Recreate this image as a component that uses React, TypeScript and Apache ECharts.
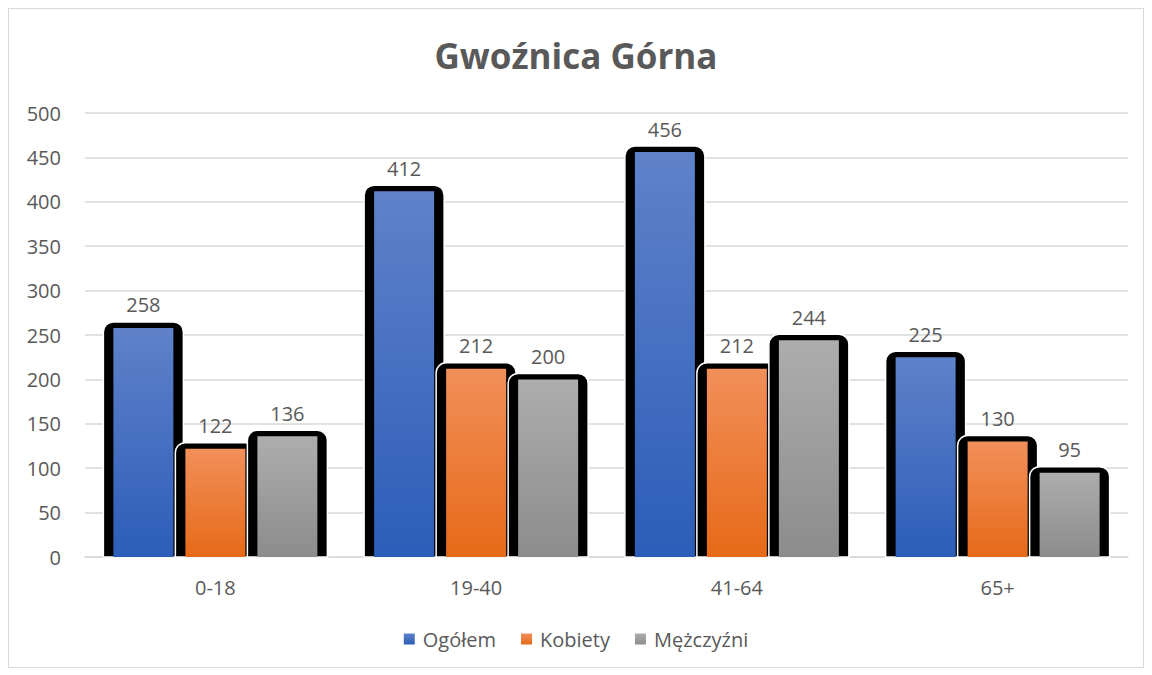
import React, { useEffect, useRef } from "react";
import * as echarts from "echarts";

const title = "Gwoźnica Górna";
const categories = ["0-18", "19-40", "41-64", "65+"];
const seriesNames = ["Ogółem", "Kobiety", "Mężczyźni"];
const ogolem = [258, 412, 456, 225];
const kobiety = [122, 212, 212, 130];
const mezczyzni = [136, 200, 244, 95];
const yTicks = { min: 0, max: 500, interval: 50 };

const FONT = "'Open Sans', sans-serif";
const TXT = "#595959";

const grad = (top: string, bottom: string) =>
  new echarts.graphic.LinearGradient(0, 0, 0, 1, [
    { offset: 0, color: top },
    { offset: 1, color: bottom },
  ]);

export default function App() {
  const ref = useRef<HTMLDivElement>(null);
  useEffect(() => {
    if (!ref.current) return;
    const chart = echarts.init(ref.current, undefined, { renderer: "svg" });
    const values = [ogolem, kobiety, mezczyzni];
    const colors = [
      grad("#5f82ca", "#2c5db8"),
      grad("#f28f5a", "#e66a18"),
      grad("#adadad", "#8c8c8c"),
    ];
    const BAR_W = 60;
    const PITCH = 72;
    const backData: number[][] = [];
    categories.forEach((_, c) => {
      values.forEach((arr, s) => backData.push([c, s, arr[c]]));
    });
    chart.setOption({
      animation: false,
      backgroundColor: "#ffffff",
      title: {
        text: title,
        left: "center",
        top: 24,
        textStyle: { fontFamily: FONT, fontSize: 35, fontWeight: "bold", color: TXT },
      },
      legend: {
        data: seriesNames,
        bottom: 13,
        left: "center",
        icon: "rect",
        itemWidth: 11,
        itemHeight: 11,
        itemGap: 25,
        textStyle: { fontFamily: FONT, fontSize: 20, color: TXT, padding: [0, 0, 0, 3] },
      },
      grid: { left: 76, right: 15, top: 104, bottom: 110, containLabel: false },
      xAxis: {
        type: "category",
        data: categories,
        axisLine: { lineStyle: { color: "#d9d9d9", width: 1.5 } },
        axisTick: { show: false },
        axisLabel: { fontFamily: FONT, fontSize: 20, color: TXT, margin: 20 },
      },
      yAxis: {
        type: "value",
        min: yTicks.min,
        max: yTicks.max,
        interval: yTicks.interval,
        axisLine: { show: false },
        axisTick: { show: false },
        splitLine: { lineStyle: { color: "#d9d9d9", width: 1.5 } },
        axisLabel: { fontFamily: FONT, fontSize: 20, color: TXT, margin: 24 },
      },
      series: [
        {
          type: "custom",
          name: "back",
          z: 1,
          silent: true,
          encode: { x: 0, y: 2 },
          data: backData,
          renderItem: (params: any, api: any) => {
            const c = api.value(0);
            const s = api.value(1);
            const v = api.value(2);
            const base = api.coord([c, 0]);
            const top = api.coord([c, v])[1];
            const cx = base[0] + (s - 1) * PITCH;
            const x = cx - BAR_W / 2 - 10;
            const y = top - 6;
            return {
              type: "rect",
              shape: { x, y, width: BAR_W + 20, height: base[1] - y, r: [10, 10, 0, 0] },
              style: { fill: "#000000", stroke: "#ffffff", lineWidth: 1.5 },
            };
          },
        },
        ...seriesNames.map((name, i) => ({
          type: "bar",
          name,
          z: 3,
          data: values[i],
          barWidth: BAR_W,
          barGap: "20%",
          itemStyle: { color: colors[i] },
          label: {
            show: true,
            position: "top",
            distance: 13,
            fontFamily: FONT,
            fontSize: 20,
            color: TXT,
          },
        })),
      ],
    });
    return () => chart.dispose();
  }, []);
  return (
    <div
      ref={ref}
      style={{
        width: 1136,
        height: 660,
        border: "1px solid #d9d9d9",
        boxSizing: "border-box",
      }}
    />
  );
}
